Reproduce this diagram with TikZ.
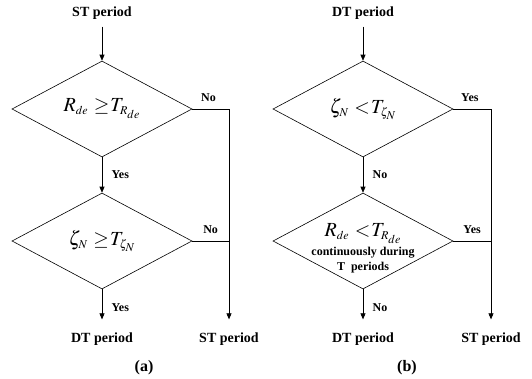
\documentclass[tikz,border=0pt]{standalone}
\usepackage{mathptmx}
\usepackage{fontspec}
\setmainfont{Liberation Serif}
\usetikzlibrary{shapes.geometric,arrows.meta,positioning}

\newcommand{\sss}{\scriptscriptstyle}
\newcommand{\relgeq}{\mkern5mu{\geq}\mkern1mu}
\newcommand{\relless}{\mkern5mu{<}\mkern1mu}

\begin{document}
\begin{tikzpicture}[
    x=1pt, y=-1pt,
    decision/.style={diamond, draw, aspect=1.87, minimum width=180pt, minimum height=96pt, inner sep=0pt},
    term/.style={font=\fontsize{14}{16}\selectfont\bfseries, inner sep=7pt},
    lab/.style={font=\fontsize{12}{14}\selectfont\bfseries},
    subcap/.style={font=\fontsize{16}{18}\selectfont\bfseries},
    big/.style={font=\fontsize{20}{24}\selectfont},
    >={Triangle[length=6pt,width=5pt]},
    line width=0.6pt
]
    \useasboundingbox (0,0) rectangle (532,378);

    % (a) starting from ST period
    \node[term] (stbegin) at (102,13) {ST period};
    \node[decision, big] (rde) at (102,109) {$R_{\sss de}\relgeq T_{\sss R_{de}}$};
    \node[decision, big] (zeta) at (102,241) {$\zeta_{\sss N}\relgeq T_{\sss \zeta_N}$};
    \node[term] (dtend) at (102,339) {DT period};
    \node[term] (stend) at (229,339) {ST period};
    \node[subcap] (capa) at (144,368) {(a)};

    \draw[->] (stbegin) -- (rde.north);
    \draw[->] (rde.south) -- (zeta.north) node[midway, lab, right=6pt] (yesa1) {Yes};
    \draw[->, shorten >=6pt] (zeta.south) -- (dtend) node[midway, lab, right=6pt] (yesa2) {Yes};
    \draw[->, shorten >=6pt] (rde.east) -| (stend) node[pos=0.22, lab, above=4pt] (noa1) {No};
    \draw (zeta.east) -- (zeta.east -| stend) node[midway, lab, above=4pt] (noa2) {No};

    % (b) starting from DT period
    \node[term] (dtbegin) at (363,13) {DT period};
    \node[decision, big] (zetb) at (363,109) {$\zeta_{\sss N}\relless T_{\sss \zeta_N}$};
    \node[decision] (rdb) at (363,241) {};
    \node[big, anchor=base, inner sep=0pt] (rdbmath) at (363,236) {$R_{\sss de}\relless T_{\sss R_{de}}$};
    \node[lab, anchor=base, inner sep=0pt] (rdbline1) at (363,255) {continuously during};
    \node[lab, anchor=base, inner sep=0pt] (rdbline2) at (363,270) {T\ \ periods};
    \node[term] (dtendb) at (363,339) {DT period};
    \node[term] (stendb) at (491,339) {ST period};
    \node[subcap] (capb) at (407,368) {(b)};

    \draw[->] (dtbegin) -- (zetb.north);
    \draw[->] (zetb.south) -- (rdb.north) node[midway, lab, right=6pt] (nob1) {No};
    \draw[->, shorten >=6pt] (rdb.south) -- (dtendb) node[midway, lab, right=6pt] (nob2) {No};
    \draw[->, shorten >=6pt] (zetb.east) -| (stendb) node[pos=0.22, lab, above=4pt] (yesb1) {Yes};
    \draw (rdb.east) -- (rdb.east -| stendb) node[midway, lab, above=4pt] (yesb2) {Yes};
\end{tikzpicture}
\end{document}
